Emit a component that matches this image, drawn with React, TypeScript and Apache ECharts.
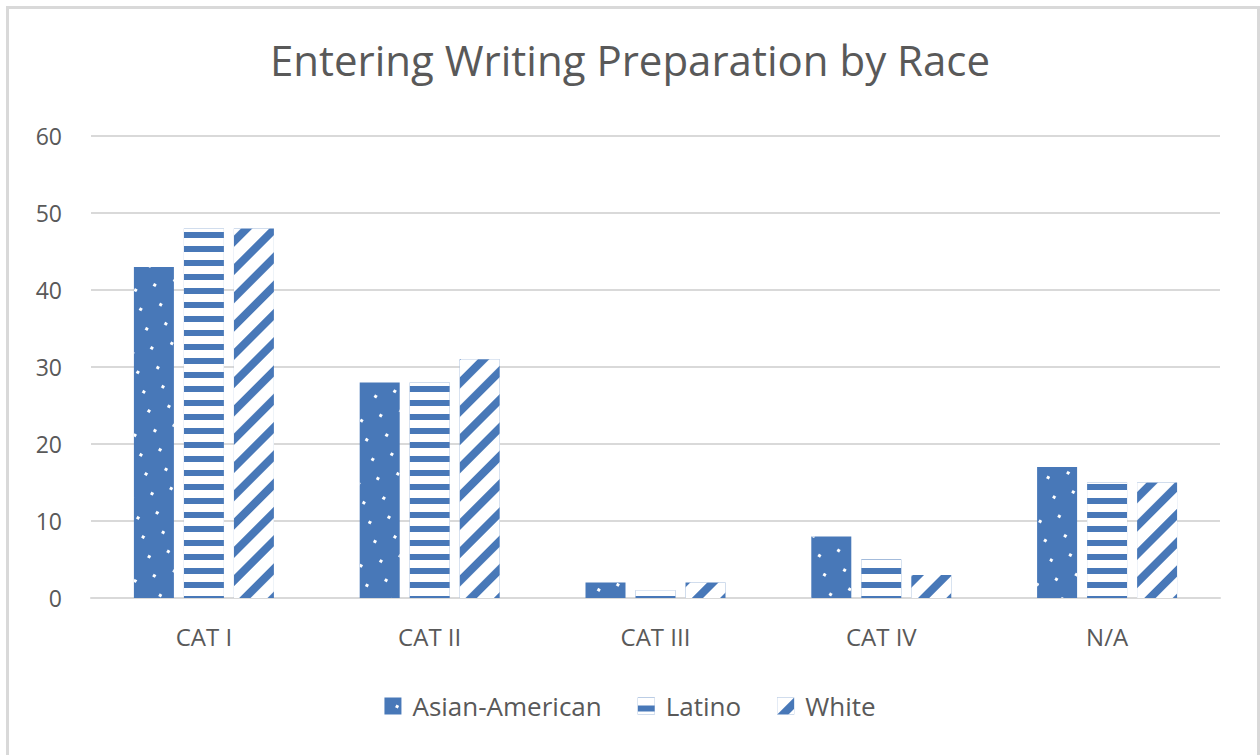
import React, { useEffect, useRef } from "react";
import * as echarts from "echarts";

const categories = ["CAT I", "CAT II", "CAT III", "CAT IV", "N/A"];
const asianAmerican = [43, 28, 2, 8, 17];
const latino = [48, 28, 1, 5, 15];
const white = [48, 31, 2, 3, 15];

const BLUE = "#4878B8";
const TEXT = "#595959";
const FONT = "'Open Sans', Lato, sans-serif";

// Fill patterns for the three series
const dotDecal = {
  symbol: "rect",
  symbolSize: 1,
  symbolKeepAspect: false,
  color: "#ffffff",
  dashArrayX: [
    [3, 26],
    [0, 14, 3, 12],
  ],
  dashArrayY: [3, 11],
};

const hStripeDecal = {
  symbol: "rect",
  symbolSize: 1,
  symbolKeepAspect: false,
  color: "#ffffff",
  dashArrayX: [1, 0],
  dashArrayY: [8, 6],
};

const diagStripeDecal = {
  symbol: "rect",
  symbolSize: 1,
  symbolKeepAspect: false,
  color: "#ffffff",
  dashArrayX: [1, 0],
  dashArrayY: [12, 8],
  rotation: -Math.PI / 4,
};

export default function App() {
  const ref = useRef<HTMLDivElement>(null);

  useEffect(() => {
    if (!ref.current) return;
    const chart = echarts.init(ref.current, null, { renderer: "svg" });

    const bar = (name: string, data: number[], decal: any) => ({
      name,
      type: "bar",
      data,
      barWidth: 40,
      barGap: "25%",
      itemStyle: { color: BLUE, decal },
    });

    chart.setOption({
      animation: false,
      backgroundColor: "#ffffff",
      aria: { enabled: true, decal: { show: true } },
      title: {
        text: "Entering Writing Preparation by Race",
        left: "center",
        top: 33,
        textStyle: {
          color: TEXT,
          fontFamily: FONT,
          fontWeight: "normal",
          fontSize: 42,
        },
      },
      legend: {
        bottom: 31,
        left: "center",
        icon: "rect",
        itemWidth: 17,
        itemHeight: 17,
        itemGap: 36,
        textStyle: {
          color: TEXT,
          fontFamily: FONT,
          fontSize: 26,
          padding: [0, 0, 0, 6],
        },
        data: ["Asian-American", "Latino", "White"],
      },
      grid: { left: 91, right: 40, top: 136, bottom: 157 },
      xAxis: {
        type: "category",
        data: categories,
        axisTick: { show: false },
        axisLine: { lineStyle: { color: "#d9d9d9", width: 2 } },
        axisLabel: {
          color: TEXT,
          fontFamily: FONT,
          fontSize: 24,
          margin: 26,
        },
      },
      yAxis: {
        type: "value",
        min: 0,
        max: 60,
        interval: 10,
        axisLine: { show: false },
        axisTick: { show: false },
        splitLine: { lineStyle: { color: "#d9d9d9", width: 2 } },
        axisLabel: {
          color: TEXT,
          fontFamily: FONT,
          fontSize: 23,
          margin: 29,
        },
      },
      graphic: [
        {
          type: "rect",
          shape: { x: 7.5, y: 7.5, width: 1251, height: 800 },
          style: { fill: "none", stroke: "#d9d9d9", lineWidth: 3 },
          silent: true,
        },
      ],
      series: [
        bar("Asian-American", asianAmerican, dotDecal),
        bar("Latino", latino, hStripeDecal),
        bar("White", white, diagStripeDecal),
      ],
    });

    return () => chart.dispose();
  }, []);

  return (
    <div
      ref={ref}
      style={{ position: "absolute", left: 0, top: 0, width: 1260, height: 755 }}
    />
  );
}
